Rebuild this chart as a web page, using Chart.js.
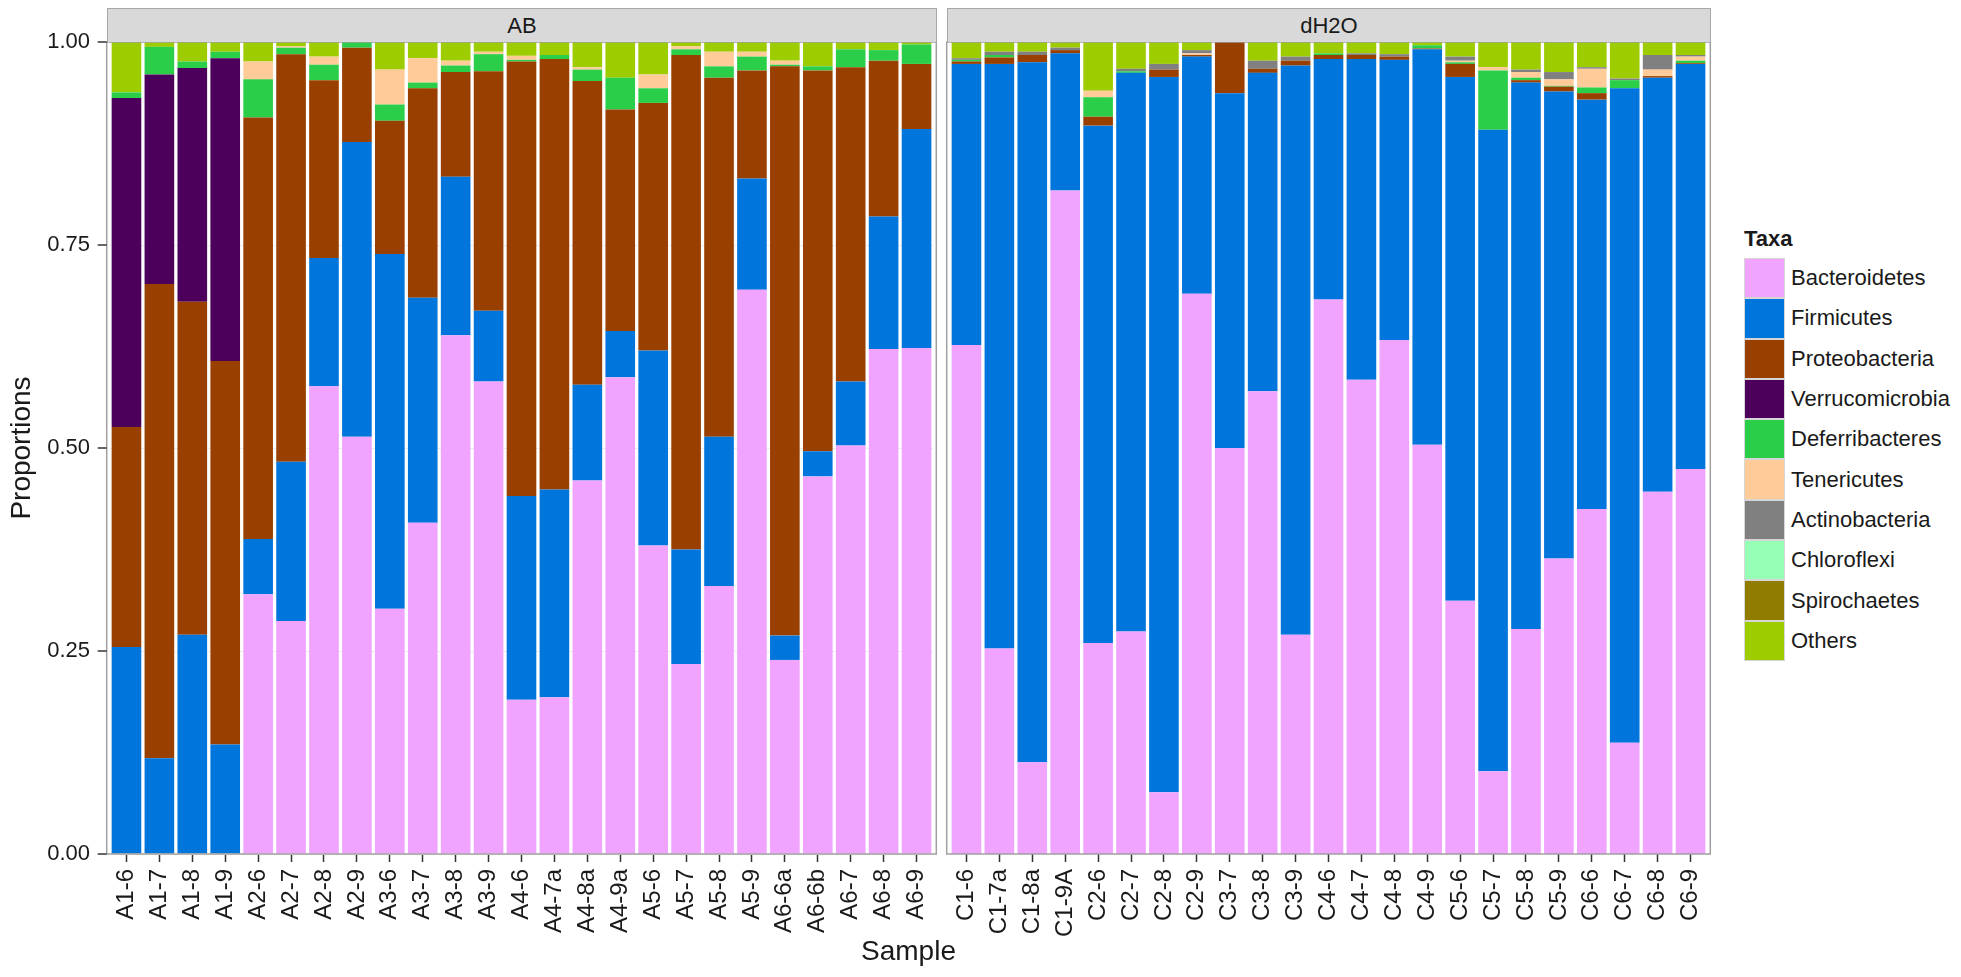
<!DOCTYPE html>
<html>
<head>
<meta charset="utf-8">
<script src="https://cdn.jsdelivr.net/npm/chart.js@4.4.1/dist/chart.umd.min.js"></script>
<style>
body { margin: 0; background: #fff; font-family: "Liberation Sans", Arial, sans-serif; }
#wrap { position: relative; width: 1961px; height: 977px; overflow: hidden; }
canvas { position: absolute; top: 0; }
.strip { position: absolute; top: 8px; height: 34px; background: #d9d9d9; border: 1px solid #a8a8a8; border-bottom: none; box-sizing: border-box; text-align: center; line-height: 33px; font-size: 22px; color: #1a1a1a; }
#xtitle { position: absolute; left: 0; width: 1817px; top: 935px; text-align: center; font-size: 28px; color: #1a1a1a; }
#legend { position: absolute; left: 1744px; top: 226px; color: #1a1a1a; }
#legend .title { font-weight: bold; font-size: 22px; height: 32px; }
#legend .row { height: 40.3px; display: flex; align-items: center; font-size: 22px; }
#legend .key { width: 41px; height: 40.3px; box-sizing: border-box; border: 1px solid #d6d6d6; margin-right: 6px; }
</style>
</head>
<body>
<div id="wrap">
  <canvas id="chartAB" width="963" height="977"></canvas>
  <canvas id="chartH2O" width="817" height="977" style="left:920px"></canvas>
  <div class="strip" style="left:107px;width:830px">AB</div>
  <div class="strip" style="left:947px;width:764px">dH2O</div>
  <div id="xtitle">Sample</div>
  <div id="legend"><div class="title">Taxa</div></div>
</div>
<script>
const samplesAB = ['A1-6','A1-7','A1-8','A1-9','A2-6','A2-7','A2-8','A2-9','A3-6','A3-7','A3-8','A3-9',
    'A4-6','A4-7a','A4-8a','A4-9a','A5-6','A5-7','A5-8','A5-9','A6-6a','A6-6b','A6-7','A6-8','A6-9'];
const samplesH2O = ['C1-6','C1-7a','C1-8a','C1-9A','C2-6','C2-7','C2-8','C2-9','C3-7','C3-8','C3-9',
    'C4-6','C4-7','C4-8','C4-9','C5-6','C5-7','C5-8','C5-9','C6-6','C6-7','C6-8','C6-9'];

const taxa = ['Bacteroidetes','Firmicutes','Proteobacteria','Verrucomicrobia','Deferribacteres',
    'Tenericutes','Actinobacteria','Chloroflexi','Spirochaetes','Others'];
const taxaColors = ['#f0a3ff','#0075dc','#993f00','#4c005c','#2bce48',
    '#ffcc99','#808080','#94ffb5','#8f7c00','#9dcc00'];

// proportions, AB samples first then dH2O samples
const bacteroidetes = [0,0,0,0,0.320,0.287,0.576,0.514,0.302,0.408,0.639,0.582,
    0.190,0.193,0.460,0.587,0.380,0.234,0.330,0.695,0.239,0.465,0.503,0.622,0.623,
    0.627,0.253,0.113,0.817,0.260,0.274,0.076,0.690,0.500,0.570,0.270,
    0.683,0.584,0.633,0.504,0.312,0.102,0.277,0.364,0.425,0.137,0.446,0.474];
const firmicutes = [0.255,0.118,0.270,0.135,0.068,0.196,0.158,0.363,0.437,0.277,0.195,0.087,
    0.251,0.256,0.118,0.057,0.240,0.141,0.184,0.137,0.030,0.031,0.079,0.163,0.270,
    0.346,0.720,0.862,0.169,0.637,0.688,0.881,0.292,0.437,0.392,0.701,
    0.296,0.395,0.345,0.487,0.645,0.790,0.673,0.575,0.504,0.806,0.510,0.499];
const proteobacteria = [0.271,0.584,0.410,0.472,0.519,0.502,0.219,0.116,0.164,0.258,0.129,0.295,
    0.535,0.530,0.374,0.273,0.305,0.609,0.442,0.133,0.701,0.469,0.387,0.192,0.080,
    0.003,0.008,0.009,0.004,0.011,0,0.009,0.002,0.063,0.005,0.006,
    0.005,0.005,0.004,0.001,0.016,0,0.003,0.006,0.008,0,0.002,0.001];
const verrucomicrobia = [0.405,0.258,0.288,0.373,0,0,0,0,0,0,0,0,
    0,0,0,0,0,0,0,0,0,0,0,0,0,
    0,0,0,0,0,0,0,0,0,0,0,
    0,0,0,0,0,0,0,0,0,0,0,0];
const deferribacteres = [0.007,0.034,0.008,0.008,0.047,0.008,0.019,0.007,0.020,0.007,0.008,0.021,
    0.002,0.005,0.014,0.039,0.018,0.007,0.014,0.017,0.002,0.005,0.022,0.013,0.024,
    0.002,0.003,0,0,0.024,0.002,0,0,0,0,0,
    0.002,0,0,0.004,0.002,0.073,0.003,0.001,0.007,0.010,0,0.003];
const tenericutes = [0,0,0,0,0.022,0.002,0.010,0,0.043,0.030,0.006,0.003,
    0.005,0,0.003,0,0.017,0.004,0.018,0.006,0.005,0,0,0,0,
    0,0,0,0,0.008,0,0,0.002,0,0,0,
    0,0,0,0,0.002,0.004,0.007,0.008,0.023,0,0.008,0.005];
const actinobacteria = [0,0,0,0,0,0,0,0,0,0,0,0,
    0,0,0,0,0,0,0,0,0,0,0,0,0,
    0.002,0.004,0.004,0.003,0,0.003,0.007,0.004,0,0.010,0.005,
    0,0.002,0.003,0,0.005,0,0.003,0.009,0.002,0.002,0.018,0.002];
const chloroflexi = [0,0,0,0,0,0,0,0,0,0,0,0,
    0,0,0,0,0,0,0,0,0,0,0,0,0,
    0,0,0,0,0,0,0,0,0,0,0,
    0,0,0,0,0,0,0,0,0,0,0,0];
const spirochaetes = [0,0,0,0,0,0,0,0,0,0,0,0,
    0,0,0,0,0,0,0,0,0,0,0,0,0,
    0,0,0,0,0,0,0,0,0,0,0,
    0,0,0,0,0,0,0,0,0,0,0,0];
const others = [0.062,0.006,0.024,0.012,0.024,0.005,0.018,0,0.034,0.020,0.023,0.012,
    0.017,0.016,0.031,0.044,0.040,0.005,0.012,0.012,0.023,0.030,0.009,0.010,0.003,
    0.020,0.012,0.012,0.007,0.060,0.033,0.027,0.010,0,0.023,0.018,
    0.014,0.014,0.015,0.004,0.018,0.031,0.034,0.037,0.031,0.045,0.016,0.016];

const series = [bacteroidetes, firmicutes, proteobacteria, verrucomicrobia, deferribacteres,
    tenericutes, actinobacteria, chloroflexi, spirochaetes, others];
const yTicks = [0, 0.25, 0.5, 0.75, 1];

const textColor = '#1a1a1a';

// ggplot style panel: grey frame slightly wider than the bars + y tick marks
const panelFrame = {
    id: 'panelFrame',
    afterDraw(chart) {
        const ctx = chart.ctx;
        const a = chart.chartArea;
        const pad = 0.1 * (a.right - a.left) / chart.data.labels.length;
        ctx.save();
        ctx.strokeStyle = '#a0a0a0';
        ctx.lineWidth = 1.5;
        ctx.strokeRect(a.left - pad, a.top, a.right - a.left + 2 * pad, a.bottom - a.top);
        if (chart.options.scales.y.display) {
            ctx.strokeStyle = '#333';
            ctx.lineWidth = 1.5;
            yTicks.forEach(v => {
                const y = chart.scales.y.getPixelForValue(v);
                ctx.beginPath();
                ctx.moveTo(a.left - pad - 9, y);
                ctx.lineTo(a.left - pad, y);
                ctx.stroke();
            });
        }
        ctx.restore();
    }
};

function makeChart(el, labels, offset, showY, padLeft) {
    return new Chart(el, {
        type: 'bar',
        data: {
            labels: labels,
            datasets: taxa.map((name, k) => ({
                label: name,
                data: series[k].slice(offset, offset + labels.length),
                backgroundColor: taxaColors[k],
                borderWidth: 0,
                barPercentage: 0.9,
                categoryPercentage: 1
            }))
        },
        options: {
            responsive: false,
            animation: false,
            events: [],
            layout: { padding: { left: padLeft, right: 30, top: 42, bottom: 0 } },
            plugins: { legend: { display: false }, tooltip: { enabled: false } },
            scales: {
                x: {
                    stacked: true,
                    border: { display: false },
                    grid: { offset: false, color: '#ececec', tickLength: 8, tickColor: '#333', tickWidth: 1.5 },
                    ticks: {
                        autoSkip: false, minRotation: 90, maxRotation: 90, padding: 7,
                        color: textColor, font: { family: '"Liberation Sans", Arial', size: 24 }
                    },
                    afterFit: s => { s.height = 123; }
                },
                y: {
                    display: showY,
                    stacked: true,
                    min: 0,
                    max: 1,
                    border: { display: false },
                    grid: { color: '#ececec', drawTicks: false },
                    ticks: {
                        stepSize: 0.25, padding: 20, color: textColor,
                        font: { family: '"Liberation Sans", Arial', size: 22 },
                        callback: v => v.toFixed(2)
                    },
                    title: {
                        display: true, text: 'Proportions', color: textColor,
                        font: { family: '"Liberation Sans", Arial', size: 28 },
                        padding: { top: 5, bottom: 0 }
                    },
                    afterFit: s => { s.width = showY ? 110 : 0; }
                }
            }
        },
        plugins: [panelFrame]
    });
}

makeChart(document.getElementById('chartAB'), samplesAB, 0, true, 0);
makeChart(document.getElementById('chartH2O'), samplesH2O, samplesAB.length, false, 30);

// legend
const legendEl = document.getElementById('legend');
taxa.forEach((name, k) => {
    const row = document.createElement('div');
    row.className = 'row';
    const key = document.createElement('div');
    key.className = 'key';
    key.style.background = taxaColors[k];
    row.appendChild(key);
    row.appendChild(document.createTextNode(name));
    legendEl.appendChild(row);
});
</script>
</body>
</html>
